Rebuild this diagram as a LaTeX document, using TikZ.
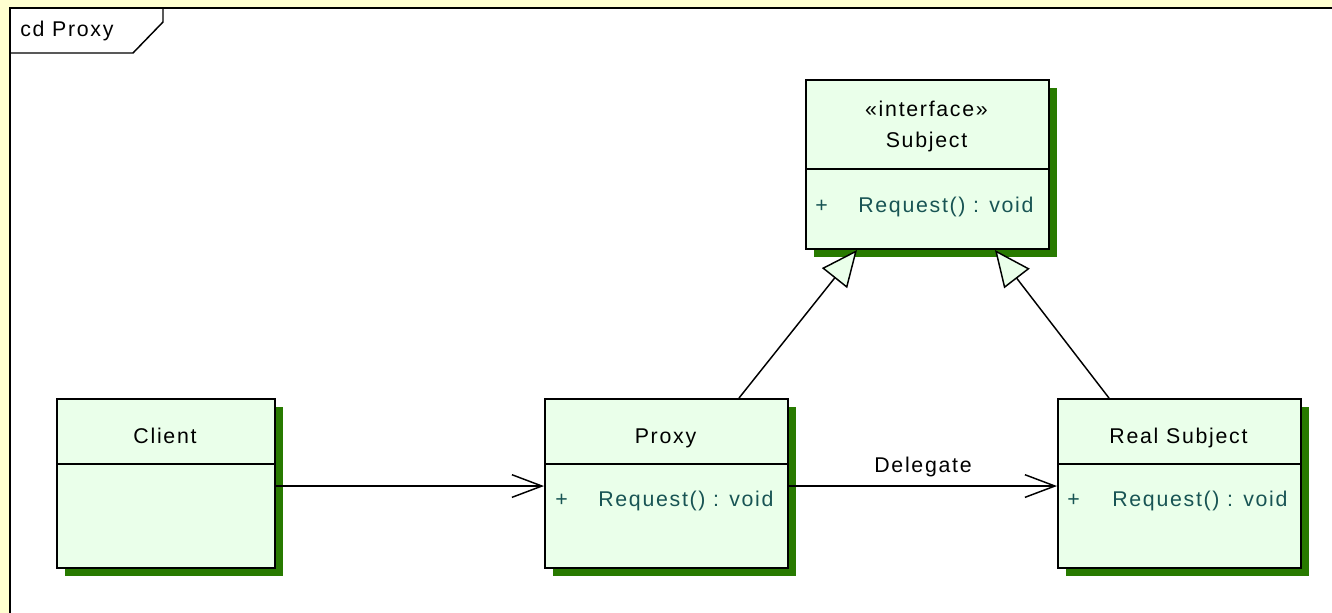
\documentclass[tikz,border=0pt]{standalone}
\usepackage{fontspec}
\newfontfamily\umlfont{Liberation Sans}[LetterSpace=8]
\usetikzlibrary{arrows.meta,shadows}
\definecolor{bgyellow}{RGB}{255,255,208}
\definecolor{boxfill}{RGB}{234,255,234}
\definecolor{shadowgreen}{RGB}{40,122,0}
\definecolor{optext}{RGB}{24,84,84}
\begin{document}
\begin{tikzpicture}[x=0.75pt,y=-0.75pt,
  every node/.style={font=\umlfont\fontsize{16pt}{19pt}\selectfont, inner sep=0pt},
  classbox/.style={draw=black, line width=1.5pt, fill=boxfill, anchor=north west,
    general shadow={fill=shadowgreen, shadow xshift=6pt, shadow yshift=-6pt},
    minimum height=126.75pt},
  divider/.style={line width=1.5pt},
  nametext/.style={anchor=base, text=black},
  optext/.style={anchor=base west, text=optext},
  assoc/.style={line width=1.1pt, -{Straight Barb[length=22.5pt,width=17pt,line width=1.1pt]}},
  realize/.style={line width=1.1pt, -{Triangle[length=27pt,width=24pt,fill=boxfill,line width=1.1pt]}},
  frameline/.style={line width=1.5pt}
]
\useasboundingbox (0,0) rectangle (1332,613);
\fill[bgyellow] (0,0) rectangle (1332,613);
\fill[white] (10,8) rectangle (1332,613);
\draw[frameline] (10,613) -- (10,8) -- (1332,8);
% frame tab
\draw[line width=1.1pt] (10,53) -- (133,53) -- (163,22) -- (163,8);
\node[anchor=base west] (tabtitle) at (20,37) {cd Proxy};

% classes
\node[classbox, minimum width=182.25pt] (subject) at (805,79) {};
\node[classbox, minimum width=182.25pt] (proxy) at (544,398) {};
\node[classbox, minimum width=182.25pt] (real) at (1057,398) {};
\node[classbox, minimum width=163.5pt] (client) at (56,398) {};

\draw[divider] (subject.west |- 0,169) -- (subject.east |- 0,169);
\draw[divider] (proxy.west |- 0,464) -- (proxy.east |- 0,464);
\draw[divider] (real.west |- 0,464) -- (real.east |- 0,464);
\draw[divider] (client.west |- 0,464) -- (client.east |- 0,464);

\node[nametext] (subjstereo) at (926.5,117) {«interface»};
\node[nametext] (subjname) at (926.5,148) {Subject};
\node[optext] (subjplus) at (815,213) {+};
\node[optext] (subjop) at (858,213) {Request() : void};

\node[nametext] (proxyname) at (665.5,443) {Proxy};
\node[optext] (proxyplus) at (555,506) {+};
\node[optext] (proxyop) at (598,506) {Request() : void};

\node[nametext] (realname) at (1178.5,443) {Real Subject};
\node[optext] (realplus) at (1067,506) {+};
\node[optext] (realop) at (1112,506) {Request() : void};

\node[nametext] (clientname) at (165,443) {Client};

% connectors
\draw[assoc] ([yshift=-1.9pt]client.east) -- ([yshift=-1.9pt]proxy.west);
\draw[assoc] ([yshift=-1.9pt]proxy.east) -- node[above=6pt, font=\umlfont\fontsize{16pt}{19pt}\selectfont] (delegate) {Delegate} ([yshift=-1.9pt]real.west);
\draw[realize] ([xshift=54.4pt]proxy.north) -- ([xshift=-52.9pt]subject.south);
\draw[realize] ([xshift=-52.9pt]real.north) -- ([xshift=50.6pt]subject.south);
\end{tikzpicture}
\end{document}
